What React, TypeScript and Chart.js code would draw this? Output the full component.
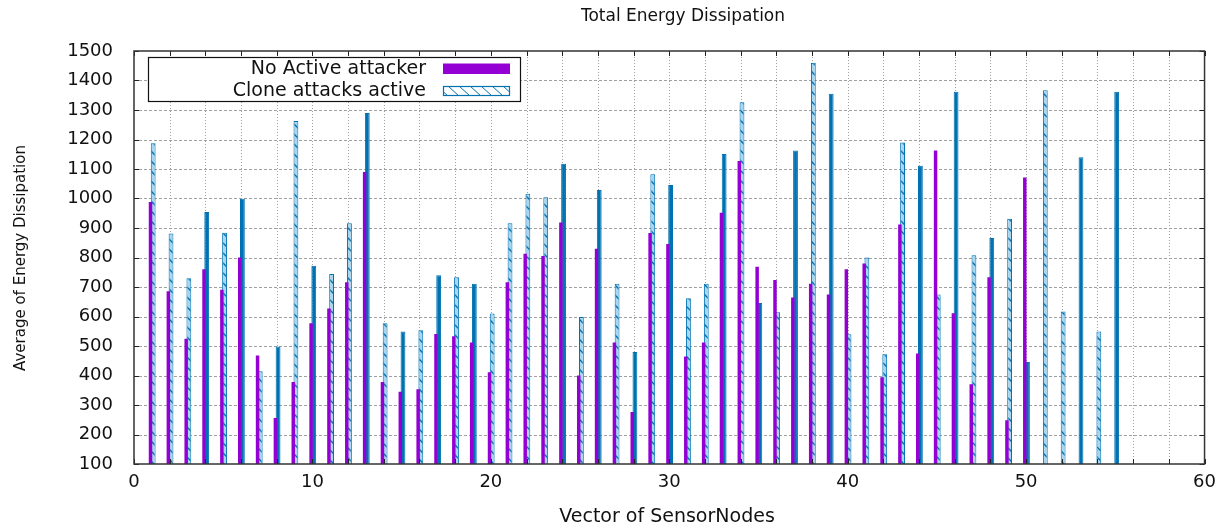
import React, { useEffect, useRef } from "react";
import { Chart, registerables } from "chart.js";

Chart.register(...registerables);

// ---------------- data ----------------
const NODES = [
  1, 2, 3, 4, 5, 6, 7, 8, 9, 10, 11, 12, 13, 14, 15, 16, 17, 18, 19, 20,
  21, 22, 23, 24, 25, 26, 27, 28, 29, 30, 31, 32, 33, 34, 35, 36, 37, 38, 39, 40,
  41, 42, 43, 44, 45, 46, 47, 48, 49, 50, 51, 52, 53, 54, 55,
];

const NO_ACTIVE_ATTACKER: (number | null)[] = [
  988, 686, 525, 760, 691, 800, 468, 256, 378, 577,
  627, 716, 1090, 378, 345, 353, 541, 533, 512, 411,
  716, 813, 805, 919, 400, 830, 512, 276, 883, 846,
  464, 512, 952, 1127, 769, 724, 664, 711, 675, 760,
  780, 394, 912, 475, 1163, 611, 370, 733, 248, 1071,
  null, null, null, null, null,
];

const CLONE_ATTACKS_ACTIVE: number[] = [
  1187, 881, 730, 954, 884, 999, 414, 498, 1263, 772,
  744, 916, 1290, 577, 549, 553, 740, 733, 711, 610,
  916, 1016, 1004, 1118, 598, 1029, 711, 480, 1082, 1046,
  662, 711, 1151, 1326, 646, 614, 1163, 1460, 1355, 540,
  800, 472, 1190, 1111, 675, 1362, 808, 866, 931, 446,
  1367, 617, 1140, 549, 1362,
];

const SERIES_LABELS = ["No Active attacker", "Clone attacks active"];
const TITLE = "Total Energy Dissipation";
const X_TITLE = "Vector of SensorNodes";
const Y_TITLE = "Average of Energy Dissipation";

// style only: clone bars that render as solid (pattern aliased away) in the reference
const SOLID_CLONE_NODES = [
  4, 6, 8, 10, 13, 15, 17, 19, 24, 26, 28, 30, 33, 35, 37, 39, 44, 46, 48, 50, 53, 55,
];

const PURPLE = "#9400D3";
const BLUE = "#0072B2";
const FONT = "'DejaVu Sans', 'Liberation Sans', sans-serif";

function makePattern(): CanvasPattern | string {
  const c = document.createElement("canvas");
  c.width = 10;
  c.height = 10;
  const g = c.getContext("2d");
  if (!g) return "#a6d5ee";
  g.fillStyle = "#a9d6ee";
  g.fillRect(0, 0, 10, 10);
  g.strokeStyle = BLUE;
  g.lineWidth = 1.4;
  g.beginPath();
  g.moveTo(-1, -1);
  g.lineTo(11, 11);
  g.moveTo(-1, 9);
  g.lineTo(1, 11);
  g.moveTo(9, -1);
  g.lineTo(11, 1);
  g.stroke();
  const p = g.createPattern(c, "repeat");
  return p || "#a6d5ee";
}

const decorPlugin = {
  id: "gnuplotDecor",
  beforeDatasetsDraw(chart: any) {
    const { ctx, chartArea: a, scales } = chart;
    const xs = scales.x;
    const ys = scales.y;
    ctx.save();
    ctx.strokeStyle = "#a0a0a0";
    ctx.lineWidth = 1;
    // horizontal dashed grid
    ctx.setLineDash([3, 2]);
    for (let v = ys.min + 100; v < ys.max; v += 100) {
      const y = Math.round(ys.getPixelForValue(v)) + 0.5;
      ctx.beginPath();
      ctx.moveTo(a.left, y);
      ctx.lineTo(a.right, y);
      ctx.stroke();
    }
    // vertical dotted grid
    ctx.setLineDash([1, 2]);
    for (let v = xs.min + 2; v < xs.max; v += 2) {
      const x = Math.round(xs.getPixelForValue(v)) + 0.5;
      ctx.beginPath();
      ctx.moveTo(x, a.top);
      ctx.lineTo(x, a.bottom);
      ctx.stroke();
    }
    ctx.restore();
  },
  afterDatasetsDraw(chart: any) {
    const { ctx, chartArea: a, scales } = chart;
    const xs = scales.x;
    const ys = scales.y;
    ctx.save();
    // inward ticks
    ctx.strokeStyle = "#222";
    ctx.lineWidth = 1;
    ctx.setLineDash([]);
    const tl = 5;
    for (let v = ys.min; v <= ys.max; v += 100) {
      const y = Math.round(ys.getPixelForValue(v)) + 0.5;
      ctx.beginPath();
      ctx.moveTo(a.left, y);
      ctx.lineTo(a.left + tl, y);
      ctx.moveTo(a.right, y);
      ctx.lineTo(a.right - tl, y);
      ctx.stroke();
    }
    for (let v = xs.min; v <= xs.max; v += 2) {
      const x = Math.round(xs.getPixelForValue(v)) + 0.5;
      ctx.beginPath();
      ctx.moveTo(x, a.bottom);
      ctx.lineTo(x, a.bottom - tl);
      ctx.moveTo(x, a.top);
      ctx.lineTo(x, a.top + tl);
      ctx.stroke();
    }
    // frame
    ctx.strokeStyle = "#333";
    ctx.lineWidth = 1.5;
    ctx.strokeRect(a.left, a.top, a.right - a.left, a.bottom - a.top);

    // legend box
    const lx = 148, ly = 57, lw = 372, lh = 44;
    ctx.fillStyle = "#fff";
    ctx.fillRect(lx, ly, lw, lh);
    ctx.strokeStyle = "#111";
    ctx.lineWidth = 1.2;
    ctx.strokeRect(lx + 0.5, ly + 0.5, lw, lh);
    ctx.font = `19px ${FONT}`;
    ctx.fillStyle = "#111";
    ctx.textAlign = "right";
    ctx.textBaseline = "middle";
    ctx.fillText(chart.data.datasets[0].label, 426, 69);
    ctx.fillText(chart.data.datasets[1].label, 426, 91);
    // swatch 1
    ctx.fillStyle = PURPLE;
    ctx.fillRect(443, 63.5, 67, 10.5);
    // swatch 2 (hatched)
    const sx = 443, sy = 86, sw = 67, sh = 10;
    ctx.fillStyle = "#fff";
    ctx.fillRect(sx, sy, sw, sh);
    ctx.save();
    ctx.beginPath();
    ctx.rect(sx, sy, sw, sh);
    ctx.clip();
    ctx.strokeStyle = BLUE;
    ctx.lineWidth = 1;
    for (let x = sx - 6; x < sx + sw + 12; x += 11) {
      ctx.beginPath();
      ctx.moveTo(x, sy);
      ctx.lineTo(x + 11, sy + sh);
      ctx.stroke();
    }
    ctx.restore();
    ctx.strokeStyle = BLUE;
    ctx.lineWidth = 1.2;
    ctx.strokeRect(sx + 0.5, sy + 0.5, sw - 1, sh - 1);

    // titles
    ctx.fillStyle = "#111";
    ctx.textAlign = "center";
    ctx.textBaseline = "middle";
    ctx.font = `17px ${FONT}`;
    ctx.fillText(TITLE, 683, 17);
    ctx.font = `19px ${FONT}`;
    ctx.fillText(X_TITLE, 667, 517);
    ctx.save();
    ctx.translate(21, 258);
    ctx.rotate(-Math.PI / 2);
    ctx.font = `15px ${FONT}`;
    ctx.fillText(Y_TITLE, 0, 0);
    ctx.restore();
    ctx.restore();
  },
};

export default function App() {
  const ref = useRef<HTMLCanvasElement | null>(null);

  useEffect(() => {
    if (!ref.current) return;
    const pattern = makePattern();
    const cloneBg = (c: any) => {
      const i = c.dataIndex;
      if (i === undefined) return pattern;
      return SOLID_CLONE_NODES.includes(NODES[i]) ? BLUE : pattern;
    };
    const chart = new Chart(ref.current, {
      type: "bar",
      data: {
        datasets: [
          {
            label: SERIES_LABELS[0],
            data: NODES.map((n, i) => ({ x: n, y: NO_ACTIVE_ATTACKER[i] })) as any,
            backgroundColor: PURPLE,
            borderWidth: 0,
            categoryPercentage: 0.3,
            barPercentage: 1.3,
          },
          {
            label: SERIES_LABELS[1],
            data: NODES.map((n, i) => ({ x: n, y: CLONE_ATTACKS_ACTIVE[i] })) as any,
            backgroundColor: cloneBg as any,
            borderColor: BLUE,
            borderWidth: 1,
            borderSkipped: "bottom",
            categoryPercentage: 0.3,
            barPercentage: 1.8,
          },
        ],
      },
      options: {
        animation: false,
        responsive: false,
        devicePixelRatio: 1,
        layout: { padding: { top: 51, right: 16, bottom: 0, left: 0 } },
        plugins: {
          legend: { display: false },
          title: { display: false },
          tooltip: { enabled: false },
        },
        scales: {
          x: {
            type: "linear",
            min: 0,
            max: 60,
            offset: false,
            grid: { display: false, drawTicks: false },
            border: { display: false },
            ticks: {
              stepSize: 2,
              autoSkip: false,
              maxRotation: 0,
              padding: 8,
              color: "#111",
              font: { family: FONT, size: 18 },
              callback: (v: any) => (Number(v) % 10 === 0 ? String(v) : ""),
            },
            afterFit: (s: any) => {
              s.height = 65;
            },
          },
          y: {
            type: "linear",
            min: 100,
            max: 1500,
            grid: { display: false, drawTicks: false },
            border: { display: false },
            ticks: {
              stepSize: 100,
              padding: 21,
              color: "#111",
              font: { family: FONT, size: 18 },
              callback: (v: any) => String(v),
            },
            afterFit: (s: any) => {
              s.width = 134;
            },
          },
        },
      },
      plugins: [decorPlugin],
    });
    return () => chart.destroy();
  }, []);

  return (
    <div style={{ position: "fixed", left: 0, top: 0, width: 1224, height: 529, background: "#fff" }}>
      <canvas ref={ref} width={1224} height={529} style={{ display: "block" }} />
    </div>
  );
}
